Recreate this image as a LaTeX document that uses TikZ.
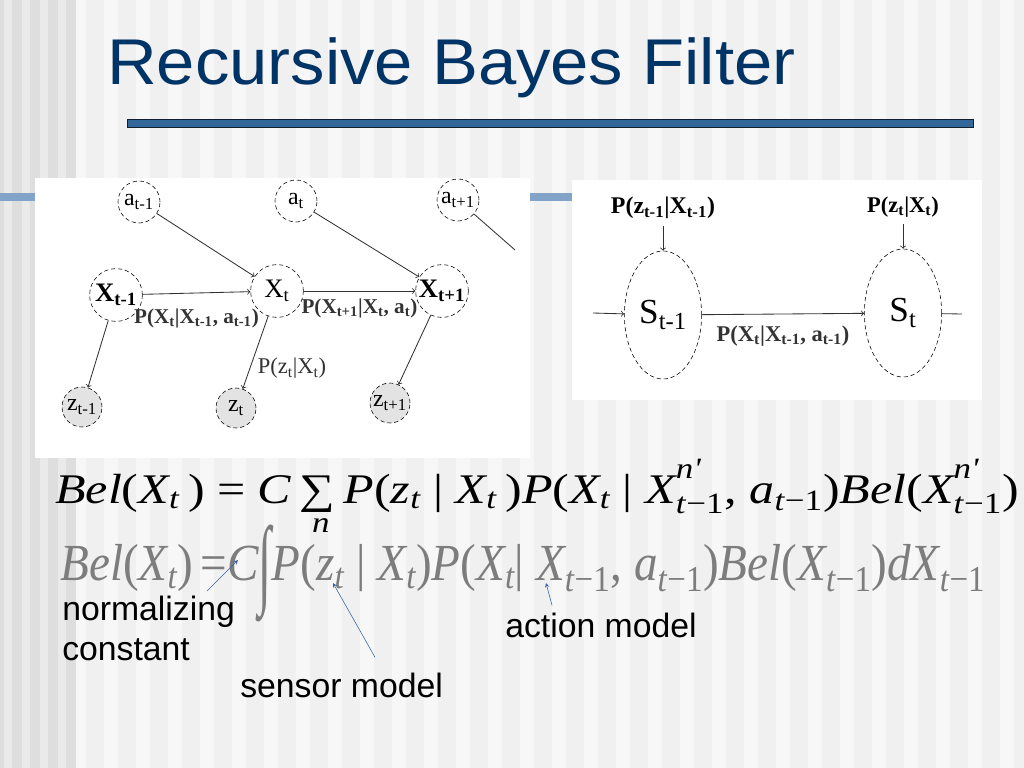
\documentclass[tikz,border=0pt]{standalone}
\usepackage{fontspec}
\usepackage{graphicx}
\usetikzlibrary{shapes.geometric,arrows,positioning,calc}
\newfontfamily\slidefont{Liberation Sans}
\newfontfamily\tmsfont{Liberation Serif}
\definecolor{titleblue}{RGB}{0,51,102}
\definecolor{barblue}{RGB}{51,102,153}
\definecolor{bandblue}{RGB}{130,163,200}
\definecolor{notearrow}{RGB}{55,100,160}
\definecolor{eqgray}{RGB}{125,125,125}
\definecolor{slidebg}{RGB}{240,240,240}
\definecolor{stripe}{RGB}{247,247,247}
\definecolor{leftbg}{RGB}{222,222,222}
\definecolor{leftstripe}{RGB}{234,234,234}
\newcommand\up[1]{\textup{#1}}
\newcommand\lo[1]{\textsubscript{#1}}
\newcommand\hilo[2]{\makebox[0pt][l]{\raisebox{0.28em}{\textsuperscript{#1}}}\raisebox{-0.08em}{\textsubscript{#2}}}
\newcommand\sumn{\makebox[0pt][l]{\raisebox{-1.0em}{\hspace{0.25em}\textsuperscript{n}}}\up{∑}}
\newcommand\intg{\raisebox{-0.3em}{\scalebox{1}[1.9]{\up{∫}}}}

\begin{document}
\begin{tikzpicture}[x=0.025cm, y=-0.025cm,
 act/.style={circle, draw, densely dashed, thin, minimum size=1.05cm, inner sep=0pt, font=\tmsfont\fontsize{17}{19}\selectfont},
 hid/.style={act, minimum size=1.32cm, font=\tmsfont\bfseries\fontsize{19}{21}\selectfont},
 obs/.style={act, minimum size=1.0cm, fill=gray!22},
 blf/.style={ellipse, draw, densely dashed, thin, minimum width=1.93cm, minimum height=3.2cm, inner sep=0pt, font=\tmsfont\fontsize{25}{28}\selectfont},
 link/.style={->, >=to, semithick, black!80},
 prob/.style={font=\tmsfont\bfseries\fontsize{15}{17}\selectfont, inner sep=1pt},
 note/.style={font=\slidefont\fontsize{24}{28}\selectfont, align=left, inner sep=0pt},
 pointer/.style={->, >=stealth, thin, notearrow}
]

% Slide background
\fill[slidebg] (0,0) rectangle (1024,768);
\foreach \x in {8,40,...,1000} \fill[stripe] (\x,0) rectangle ++(14,768);
\fill[leftbg] (0,0) rectangle (76,768);
\foreach \x in {4,22,40,58} \fill[leftstripe] (\x,0) rectangle ++(8,768);
\useasboundingbox (0,0) rectangle (1024,768);
\fill[bandblue] (0,193) rectangle (975,201);

% Title
\node[anchor=base west, text=titleblue, font=\slidefont\fontsize{46}{50}\selectfont, inner sep=0pt] (title) at (107,85) {\resizebox{17.2cm}{\height}{Recursive Bayes Filter}};
\draw[fill=barblue, draw=black!70!barblue, semithick] (127,119) rectangle (973,127);

% Picture panels
\fill[white] (35,178) rectangle (530,458);
\fill[white] (572,180) rectangle (982,400);

% Dynamic Bayes network
\node[act] (a1) at (139,202) {a\lo{t-1}};
\node[act] (a2) at (296,201) {a\lo{t}};
\node[act] (a3) at (458,200) {a\lo{t+1}};
\node[hid] (x1) at (116,295) {X\lo{t-1}};
\node[hid, font=\tmsfont\fontsize{19}{21}\selectfont] (x2) at (277,291) {X\lo{t}};
\node[hid] (x3) at (442,291) {X\lo{t+1}};
\node[obs] (z1) at (82,407) {z\lo{t-1}};
\node[obs] (z2) at (236,408) {z\lo{t}};
\node[obs] (z3) at (390,403) {z\lo{t+1}};
\coordinate (aout) at (515,250);

\draw[link] (a1) -- (x2);
\draw[link] (a2) -- (x3);
\draw[semithick, black!80] (a3) -- (aout);
\draw[link] (x1) -- (x2) node[prob, midway, below=0.34cm] (px1) {P(X\lo{t}|X\lo{t-1}, a\lo{t-1})};
\draw[link] (x2) -- (x3) node[prob, midway, below=0.16cm] (px2) {P(X\lo{t+1}|X\lo{t}, a\lo{t})};
\draw[link] (x1) -- (z1);
\draw[link] (x2) -- (z2) node[pos=0.72, right=2pt, font=\tmsfont\fontsize{16}{18}\selectfont] (pz) {P(z\lo{t}|X\lo{t})};
\draw[link] (x3) -- (z3);

% Belief chain
\node[blf] (s1) at (663,315) {S\lo{t-1}};
\node[blf] (s2) at (903,313) {S\lo{t}};
\coordinate (sin) at (593,313);
\coordinate (sout) at (962,314);
\draw[link] (sin) -- (s1);
\draw[semithick, black!80] (s2) -- (sout);
\draw[link] (s1) -- (s2) node[prob, midway, below=0.24cm, font=\tmsfont\bfseries\fontsize{16}{18}\selectfont] (ps) {P(X\lo{t}|X\lo{t-1}, a\lo{t-1})};
\node[prob, above=0.75cm of s1, font=\tmsfont\bfseries\fontsize{17}{19}\selectfont] (pz1) {P(z\lo{t-1}|X\lo{t-1})};
\node[prob, above=0.75cm of s2, font=\tmsfont\bfseries\fontsize{16}{18}\selectfont] (pz2) {P(z\lo{t}|X\lo{t})};
\draw[link, shorten <=4pt] (pz1) -- (s1);
\draw[link, shorten <=4pt] (pz2) -- (s2);

% Update equations
\node[anchor=base west, inner sep=0pt, font=\tmsfont\itshape\fontsize{30}{32}\selectfont] (bel1) at (55,503) {\resizebox{24.08cm}{\height}{Bel\up{(}X\lo{t}\,\up{)} \up{=} C\,\sumn\,P\up{(}z\lo{t} \up{|} X\lo{t}\,\up{)}P\up{(}X\lo{t} \up{|} X\hilo{n'}{t\up{−1}}\up{,} a\lo{t\up{−1}}\up{)}Bel\up{(}X\hilo{n'}{t\up{−1}}\up{)}}};
\node[anchor=base west, inner sep=0pt, text=eqgray, font=\tmsfont\itshape\fontsize{37}{40}\selectfont] (bel2) at (60,580) {\resizebox{23.12cm}{\height}{Bel\up{(}X\lo{t}\up{)}\,\up{=}C\intg P\up{(}z\lo{t} \up{|} X\lo{t}\up{)}P\up{(}X\lo{t}\up{|} X\lo{t\up{−1}}\up{,} a\lo{t\up{−1}}\up{)}Bel\up{(}X\lo{t\up{−1}}\up{)}dX\lo{t\up{−1}}}};

% Annotations
\node[note, anchor=north west] (normnote) at (62,596) {normalizing\\constant};
\node[note, anchor=base west] (actnote) at (505,637) {action model};
\node[note, anchor=base west] (sensnote) at (240,697) {sensor model};
\coordinate (cmark) at (238,560);
\coordinate (pmark) at (333,583);
\coordinate (xmark) at (546,583);
\draw[pointer] ($(normnote.north west)+(145,-5)$) -- (cmark);
\draw[pointer] ($(sensnote.north west)+(135,-15)$) -- (pmark);
\draw[pointer] ($(actnote.north west)+(47,-7)$) -- (xmark);

\end{tikzpicture}
\end{document}
